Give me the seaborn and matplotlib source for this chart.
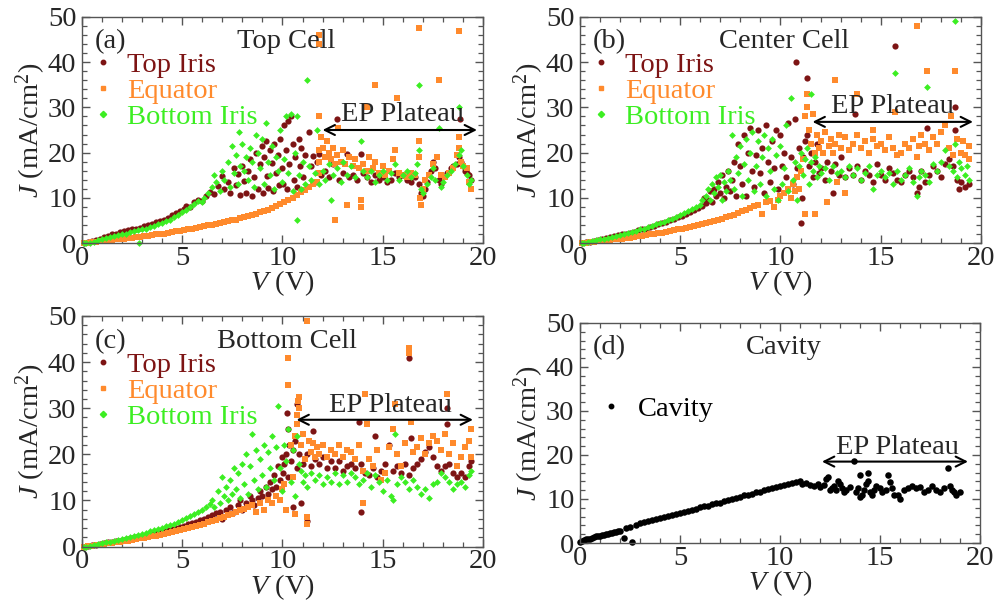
import matplotlib
matplotlib.use("Agg")
import matplotlib.pyplot as plt
from matplotlib.lines import Line2D
from matplotlib.ticker import MultipleLocator
import pandas as pd
import seaborn as sns

# ---------------------------------------------------------------------------
# Measured current density J (mA/cm^2) versus applied voltage V (V), (V, J)
# ---------------------------------------------------------------------------
TOP_IRIS_A = [
    (0.1, 0.0), (0.3, 0.2), (0.5, 0.4), (0.7, 0.7), (0.9, 1.0), (1.1, 1.3), (1.3, 1.6), (1.5, 1.9),
    (1.7, 2.1), (1.9, 2.4), (2.1, 2.6), (2.3, 2.9), (2.5, 3.1), (2.7, 3.0), (2.9, 3.4), (3.1, 3.7),
    (3.3, 4.0), (3.5, 4.2), (3.7, 4.6), (3.9, 4.9), (4.1, 5.2), (4.3, 5.6), (4.5, 6.1), (4.7, 6.6),
    (4.9, 7.0), (5.1, 7.5), (5.2, 8.3), (5.4, 8.0), (5.6, 9.0), (5.8, 9.6), (6.0, 9.2), (6.2, 10.4),
    (6.4, 11.2), (6.6, 10.8), (6.8, 12.6), (7.0, 14.8), (7.1, 12.0), (7.3, 13.5), (7.4, 11.0),
    (7.6, 16.5), (7.7, 12.8), (7.8, 15.2), (7.9, 10.6), (8.0, 17.0), (8.1, 13.8), (8.2, 11.0),
    (8.3, 16.0), (8.4, 18.5), (8.5, 10.5), (8.6, 14.5), (8.7, 20.0), (8.8, 12.0), (8.9, 17.5),
    (9.0, 21.5), (9.05, 11.0), (9.1, 19.0), (9.2, 22.5), (9.25, 14.8), (9.3, 12.2), (9.4, 20.5),
    (9.5, 17.8), (9.55, 11.5), (9.6, 21.8), (9.7, 15.5), (9.8, 19.5), (9.85, 12.8), (9.9, 23.0),
    (10.0, 16.5), (10.05, 13.0), (10.1, 26.0), (10.2, 20.5), (10.25, 12.0), (10.3, 27.0),
    (10.35, 17.5), (10.4, 28.2), (10.5, 22.0), (10.55, 14.0), (10.6, 19.0), (10.7, 12.5),
    (10.8, 23.0), (10.85, 17.0), (10.9, 21.0), (11.0, 14.5), (11.1, 19.5), (11.3, 24.5),
    (11.4, 17.0), (11.5, 19.2), (11.6, 13.5), (11.7, 18.0), (11.8, 19.8), (11.9, 15.0),
    (12.1, 16.0), (12.3, 14.5), (12.5, 17.5), (12.7, 27.5), (12.8, 14.0), (13.0, 15.5),
    (13.2, 19.8), (13.3, 14.5), (13.5, 15.0), (13.7, 14.0), (13.9, 19.8), (14.0, 15.5),
    (14.2, 14.5), (14.4, 13.5), (14.6, 15.0), (14.8, 14.0), (15.0, 14.5), (15.2, 13.5),
    (15.4, 14.0), (15.6, 15.5), (15.8, 14.5), (16.0, 15.0), (16.2, 14.0), (16.4, 13.5),
    (16.6, 14.5), (16.8, 13.0), (16.9, 11.0), (17.0, 10.5), (17.1, 12.0), (17.2, 13.5),
    (17.4, 16.0), (17.5, 18.0), (17.6, 16.5), (17.8, 14.0), (17.9, 13.0), (18.0, 14.5),
    (18.2, 15.5), (18.4, 16.5), (18.5, 17.0), (18.7, 17.5), (18.8, 19.0), (18.85, 27.5),
    (18.9, 18.0), (19.0, 17.0), (19.1, 16.0), (19.2, 15.5), (19.3, 15.0), (19.4, 14.0),
]
EQUATOR_A = [
    (0.1, 0.0), (0.3, 0.1), (0.5, 0.2), (0.7, 0.3), (0.9, 0.4), (1.1, 0.5), (1.3, 0.6), (1.5, 0.7),
    (1.7, 0.8), (1.9, 0.9), (2.1, 1.0), (2.3, 1.1), (2.5, 1.2), (2.7, 1.3), (2.9, 1.4), (3.1, 1.5),
    (3.3, 1.6), (3.5, 1.8), (3.7, 1.9), (3.9, 2.0), (4.1, 2.1), (4.3, 2.3), (4.5, 2.4), (4.7, 2.6),
    (4.9, 2.7), (5.1, 2.9), (5.3, 3.0), (5.5, 3.2), (5.7, 3.3), (5.9, 3.5), (6.1, 3.7), (6.3, 3.9),
    (6.5, 4.0), (6.7, 4.2), (6.9, 4.4), (7.1, 4.6), (7.3, 4.8), (7.5, 5.0), (7.7, 5.2), (7.9, 5.5),
    (8.1, 5.7), (8.3, 5.9), (8.5, 6.2), (8.7, 6.5), (8.9, 6.8), (9.1, 7.1), (9.3, 7.4), (9.5, 7.8),
    (9.7, 8.2), (9.9, 8.6), (10.1, 9.0), (10.3, 9.5), (10.5, 10.0), (10.7, 10.6), (10.9, 11.2),
    (11.1, 11.8), (11.3, 12.4), (11.5, 13.0), (11.7, 13.5), (11.8, 15.5), (11.8, 18.0),
    (11.8, 20.5), (11.9, 23.5), (11.8, 28.0), (11.8, 44.0), (11.8, 46.0), (12.0, 21.0),
    (12.1, 19.0), (12.2, 22.5), (12.3, 20.0), (12.4, 18.5), (12.5, 21.0), (12.6, 5.0),
    (12.6, 17.5), (12.7, 19.5), (12.75, 25.5), (12.9, 18.0), (13.0, 20.5), (13.1, 17.5),
    (13.2, 8.5), (13.3, 19.0), (13.5, 17.0), (13.6, 18.5), (13.8, 16.5), (13.9, 8.0), (13.9, 9.5),
    (14.0, 17.5), (14.2, 16.0), (14.2, 30.0), (14.3, 19.0), (14.5, 16.5), (14.6, 35.0),
    (14.6, 18.0), (14.8, 15.5), (15.0, 17.0), (15.1, 15.0), (15.3, 16.0), (15.5, 18.5),
    (15.6, 20.5), (15.7, 32.0), (15.8, 15.5), (16.0, 15.0), (16.2, 14.5), (16.4, 15.5),
    (16.6, 15.0), (16.8, 22.5), (16.8, 19.0), (16.8, 47.5), (16.85, 10.0), (16.9, 8.5),
    (17.0, 12.0), (17.1, 14.0), (17.3, 15.0), (17.5, 17.5), (17.7, 19.0), (17.8, 36.0),
    (17.9, 15.0), (18.1, 14.5), (18.3, 15.5), (18.5, 16.5), (18.7, 19.5), (18.8, 23.5),
    (18.8, 21.0), (18.8, 47.0), (18.9, 18.0), (19.0, 17.0), (19.2, 16.5), (19.3, 13.5),
    (19.4, 12.0),
]
BOTTOM_IRIS_A = [
    (0.1, 0.0), (0.2, 0.0), (0.4, 0.1), (0.6, 0.3), (0.8, 0.6), (1.0, 0.8), (1.2, 1.1), (1.4, 1.3),
    (1.6, 1.5), (1.8, 1.7), (2.0, 1.9), (2.2, 2.1), (2.4, 2.4), (2.6, 2.6), (2.8, 2.8), (2.85, 0.0),
    (3.0, 3.0), (3.2, 3.2), (3.4, 3.5), (3.6, 3.8), (3.8, 4.1), (4.0, 4.5), (4.2, 4.8), (4.4, 5.2),
    (4.6, 5.7), (4.8, 6.2), (5.0, 6.8), (5.2, 7.3), (5.4, 7.9), (5.6, 8.6), (5.8, 9.3), (6.0, 9.0),
    (6.1, 10.0), (6.3, 11.0), (6.5, 12.5), (6.6, 15.0), (6.7, 13.5), (6.9, 11.5), (7.0, 16.0),
    (7.1, 14.0), (7.3, 18.0), (7.4, 12.5), (7.5, 21.5), (7.6, 15.5), (7.7, 19.5), (7.8, 13.0),
    (7.85, 24.5), (7.9, 17.0), (8.0, 22.0), (8.1, 16.0), (8.2, 19.0), (8.3, 14.0), (8.4, 21.0),
    (8.5, 18.0), (8.6, 12.5), (8.7, 24.0), (8.8, 20.0), (8.9, 16.5), (9.0, 23.0), (9.1, 13.0),
    (9.2, 26.5), (9.3, 18.0), (9.4, 15.0), (9.5, 21.5), (9.6, 12.0), (9.7, 19.0), (9.8, 16.0),
    (9.9, 25.0), (10.0, 13.5), (10.1, 18.5), (10.2, 28.0), (10.3, 15.5), (10.4, 28.5),
    (10.5, 11.5), (10.6, 20.0), (10.7, 5.0), (10.7, 28.0), (10.8, 15.0), (10.9, 12.0),
    (11.0, 18.0), (11.1, 13.0), (11.2, 36.0), (11.3, 17.0), (11.4, 14.0), (11.6, 15.5),
    (11.7, 25.0), (11.8, 13.0), (12.0, 16.0), (12.1, 14.0), (12.3, 17.5), (12.4, 9.5),
    (12.5, 15.0), (12.7, 16.5), (12.9, 13.5), (13.0, 18.0), (13.2, 15.0), (13.4, 17.0),
    (13.6, 14.5), (13.9, 22.5), (14.0, 16.0), (14.2, 14.5), (14.4, 16.0), (14.6, 13.5),
    (14.8, 15.0), (15.0, 16.0), (15.2, 14.0), (15.4, 15.5), (15.6, 17.5), (15.8, 14.0),
    (16.0, 15.0), (16.2, 16.0), (16.4, 14.5), (16.6, 15.5), (16.7, 17.5), (16.8, 35.0),
    (16.8, 20.5), (16.9, 12.0), (17.0, 11.0), (17.2, 13.0), (17.4, 14.5), (17.5, 16.5),
    (17.6, 14.0), (17.8, 25.5), (17.9, 12.5), (18.0, 13.5), (18.2, 15.0), (18.4, 16.0),
    (18.6, 17.5), (18.8, 30.0), (18.8, 19.5), (18.9, 20.5), (19.0, 17.0), (19.2, 15.0),
    (19.3, 13.0), (19.4, 14.0),
]

TOP_IRIS_B = [
    (0.1, 0.0), (0.3, 0.2), (0.5, 0.3), (0.7, 0.5), (0.9, 0.7), (1.1, 0.9), (1.3, 1.1), (1.5, 1.3),
    (1.7, 1.5), (1.9, 1.7), (2.1, 1.9), (2.3, 2.1), (2.5, 2.3), (2.7, 2.5), (2.9, 2.8), (3.1, 3.0),
    (3.3, 3.2), (3.5, 3.5), (3.7, 3.8), (3.9, 4.1), (4.1, 4.4), (4.3, 4.7), (4.5, 5.0), (4.7, 5.3),
    (4.9, 5.7), (5.1, 6.0), (5.3, 6.4), (5.5, 6.8), (5.7, 7.3), (5.9, 7.8), (6.1, 8.2), (6.2, 10.0),
    (6.3, 8.8), (6.4, 9.5), (6.5, 11.5), (6.6, 9.0), (6.7, 12.0), (6.8, 10.5), (6.9, 13.5),
    (7.0, 11.0), (7.1, 15.0), (7.2, 10.0), (7.3, 12.5), (7.4, 16.0), (7.5, 11.5), (7.6, 14.0),
    (7.7, 18.0), (7.8, 10.5), (7.9, 22.0), (8.0, 17.0), (8.1, 13.0), (8.2, 24.0), (8.3, 10.5),
    (8.4, 20.0), (8.5, 25.5), (8.6, 16.0), (8.7, 12.5), (8.8, 19.5), (8.9, 25.0), (9.0, 15.5),
    (9.1, 21.0), (9.2, 11.0), (9.3, 26.0), (9.4, 18.0), (9.5, 13.5), (9.6, 22.5), (9.7, 16.5),
    (9.8, 25.0), (9.9, 12.0), (10.0, 24.0), (10.1, 17.0), (10.2, 20.0), (10.3, 14.5),
    (10.4, 26.5), (10.5, 19.0), (10.6, 13.0), (10.7, 27.5), (10.75, 40.0), (10.8, 16.5),
    (10.9, 21.0), (11.0, 4.5), (11.05, 10.0), (11.1, 19.0), (11.2, 22.5), (11.3, 36.5),
    (11.3, 24.0), (11.4, 17.0), (11.5, 20.0), (11.6, 14.5), (11.7, 18.0), (11.8, 22.0),
    (11.9, 15.5), (12.0, 16.5), (12.2, 14.0), (12.3, 18.0), (12.5, 16.0), (12.6, 11.0),
    (12.7, 17.5), (12.9, 15.0), (13.0, 19.0), (13.2, 14.5), (13.4, 16.5), (13.6, 15.0),
    (13.7, 28.5), (13.8, 17.0), (14.0, 14.0), (14.2, 16.0), (14.4, 15.0), (14.6, 13.5),
    (14.8, 17.5), (15.0, 15.0), (15.2, 14.0), (15.4, 16.5), (15.6, 15.5), (15.7, 43.5),
    (15.8, 14.0), (16.0, 13.5), (16.2, 15.0), (16.4, 16.0), (16.6, 14.5), (16.8, 11.0),
    (16.9, 12.5), (17.0, 16.0), (17.2, 13.5), (17.3, 25.5), (17.4, 15.0), (17.6, 17.0),
    (17.8, 16.0), (18.0, 14.5), (18.2, 17.5), (18.4, 18.5), (18.6, 17.0), (18.7, 30.0),
    (18.7, 25.0), (18.8, 14.0), (18.9, 12.0), (19.0, 13.5), (19.2, 12.5), (19.4, 13.0),
]
EQUATOR_B = [
    (0.1, 0.0), (0.3, 0.1), (0.5, 0.2), (0.7, 0.3), (0.9, 0.4), (1.1, 0.5), (1.3, 0.6), (1.5, 0.7),
    (1.7, 0.8), (1.9, 0.9), (2.1, 1.0), (2.3, 1.1), (2.5, 1.2), (2.7, 1.4), (2.9, 1.5), (3.1, 1.6),
    (3.3, 1.8), (3.5, 1.9), (3.7, 2.0), (3.9, 2.2), (4.1, 2.3), (4.3, 2.5), (4.5, 2.6), (4.7, 2.8),
    (4.9, 3.0), (5.1, 3.2), (5.3, 3.3), (5.5, 3.5), (5.7, 3.7), (5.9, 4.0), (6.1, 4.2), (6.3, 4.4),
    (6.5, 4.6), (6.7, 4.9), (6.9, 5.1), (7.1, 5.4), (7.3, 5.7), (7.5, 6.0), (7.7, 6.3), (7.9, 6.6),
    (8.1, 7.0), (8.3, 7.3), (8.5, 7.7), (8.7, 8.1), (8.9, 8.5), (9.1, 6.5), (9.3, 9.0), (9.5, 9.4),
    (9.7, 8.0), (9.9, 9.5), (10.0, 10.5), (10.2, 11.0), (10.4, 12.0), (10.5, 10.0), (10.6, 13.0),
    (10.7, 11.5), (10.8, 14.5), (10.9, 12.0), (11.0, 16.0), (11.1, 18.5), (11.2, 6.5),
    (11.2, 28.0), (11.3, 33.0), (11.3, 30.0), (11.4, 25.0), (11.5, 22.0), (11.6, 28.5),
    (11.7, 6.5), (11.7, 20.0), (11.8, 24.0), (11.9, 21.0), (12.0, 22.5), (12.1, 20.0),
    (12.2, 24.5), (12.3, 9.0), (12.4, 21.5), (12.5, 23.0), (12.6, 20.0), (12.7, 36.0),
    (12.7, 22.0), (12.8, 13.5), (12.9, 24.0), (13.0, 21.0), (13.2, 11.0), (13.2, 23.5),
    (13.4, 20.5), (13.6, 22.0), (13.8, 33.0), (13.8, 24.0), (14.0, 21.0), (14.2, 22.5),
    (14.4, 20.0), (14.6, 25.0), (14.6, 23.0), (14.8, 21.5), (15.0, 22.0), (15.2, 20.5),
    (15.4, 23.5), (15.6, 21.0), (15.7, 29.0), (15.8, 19.5), (16.0, 20.0), (16.2, 22.0),
    (16.4, 21.0), (16.6, 23.0), (16.8, 48.0), (16.8, 19.0), (16.9, 21.5), (17.0, 24.0),
    (17.2, 22.0), (17.3, 38.0), (17.4, 20.5), (17.6, 23.5), (17.8, 22.0), (18.0, 24.5),
    (18.2, 26.0), (18.4, 21.0), (18.5, 28.0), (18.6, 19.5), (18.7, 38.0), (18.8, 23.0),
    (19.0, 20.0), (19.1, 22.5), (19.2, 19.5), (19.4, 21.5), (19.4, 18.5),
]
BOTTOM_IRIS_B = [
    (0.1, 0.0), (0.2, 0.1), (0.4, 0.2), (0.6, 0.4), (0.8, 0.6), (1.0, 0.8), (1.2, 1.0), (1.4, 1.2),
    (1.6, 1.4), (1.8, 1.6), (2.0, 1.8), (2.2, 2.0), (2.4, 2.2), (2.6, 2.5), (2.8, 2.7), (3.0, 3.0),
    (3.2, 3.2), (3.4, 3.5), (3.6, 3.8), (3.8, 4.1), (4.0, 4.4), (4.2, 4.7), (4.4, 5.0), (4.6, 5.4),
    (4.8, 5.8), (5.0, 6.2), (5.2, 6.6), (5.4, 7.0), (5.6, 7.5), (5.8, 8.0), (6.0, 8.5), (6.1, 9.5),
    (6.3, 10.5), (6.4, 12.0), (6.5, 9.5), (6.6, 13.0), (6.7, 11.0), (6.8, 14.5), (6.9, 12.5),
    (7.0, 15.0), (7.1, 9.5), (7.2, 13.5), (7.3, 11.5), (7.4, 16.0), (7.5, 14.0), (7.6, 24.0),
    (7.7, 12.0), (7.8, 19.0), (7.9, 15.5), (8.0, 21.5), (8.1, 10.5), (8.2, 17.5), (8.3, 23.0),
    (8.4, 14.0), (8.5, 20.0), (8.6, 24.5), (8.7, 11.5), (8.8, 17.0), (8.9, 22.5), (9.0, 13.0),
    (9.1, 19.0), (9.2, 24.0), (9.3, 10.5), (9.4, 21.0), (9.5, 16.0), (9.6, 23.0), (9.7, 12.0),
    (9.8, 19.5), (9.9, 9.5), (10.0, 21.5), (10.1, 13.0), (10.2, 16.5), (10.3, 26.0),
    (10.4, 11.5), (10.5, 32.0), (10.6, 14.0), (10.7, 18.0), (10.8, 9.5), (10.9, 17.0),
    (11.0, 20.0), (11.1, 15.0), (11.2, 18.5), (11.3, 21.0), (11.4, 13.0), (11.5, 33.0),
    (11.5, 18.0), (11.6, 16.0), (11.7, 19.0), (11.8, 14.5), (11.9, 17.0), (12.0, 15.5),
    (12.2, 16.5), (12.4, 14.0), (12.6, 17.0), (12.8, 15.5), (13.0, 16.0), (13.2, 14.5),
    (13.4, 17.0), (13.6, 15.0), (13.8, 16.5), (14.0, 14.0), (14.2, 15.5), (14.4, 17.0),
    (14.6, 12.0), (14.8, 15.0), (15.0, 16.0), (15.2, 14.5), (15.4, 15.5), (15.6, 13.0),
    (15.7, 37.5), (15.8, 16.0), (16.0, 14.0), (16.2, 15.0), (16.4, 16.5), (16.6, 13.5),
    (16.8, 10.5), (16.9, 14.5), (17.0, 16.0), (17.2, 15.0), (17.3, 34.5), (17.4, 13.5),
    (17.6, 17.5), (17.8, 16.0), (18.0, 18.0), (18.2, 20.5), (18.4, 17.0), (18.6, 16.0),
    (18.7, 49.0), (18.7, 22.0), (18.8, 14.5), (18.9, 18.0), (19.0, 16.5), (19.2, 15.0),
    (19.3, 17.0), (19.4, 14.0),
]

TOP_IRIS_C = [
    (0.1, 0.0), (0.3, 0.1), (0.5, 0.3), (0.7, 0.4), (0.9, 0.6), (1.1, 0.7), (1.3, 0.9), (1.5, 1.0),
    (1.7, 1.2), (1.9, 1.3), (2.1, 1.5), (2.3, 1.6), (2.5, 1.8), (2.7, 2.0), (2.9, 2.1), (3.1, 2.3),
    (3.3, 2.5), (3.5, 2.7), (3.7, 2.9), (3.9, 3.1), (4.1, 3.3), (4.3, 3.5), (4.5, 3.8), (4.7, 4.0),
    (4.9, 4.3), (5.1, 4.5), (5.3, 4.8), (5.5, 5.1), (5.7, 5.4), (5.9, 5.7), (6.1, 6.0), (6.3, 6.4),
    (6.5, 6.8), (6.7, 7.2), (6.9, 7.6), (7.0, 6.0), (7.2, 8.0), (7.4, 8.5), (7.6, 7.5), (7.8, 9.0),
    (7.9, 10.0), (8.0, 8.0), (8.2, 9.5), (8.4, 11.0), (8.5, 10.0), (8.6, 9.0), (8.8, 10.5),
    (8.9, 12.0), (9.0, 11.0), (9.2, 13.0), (9.3, 11.5), (9.4, 14.0), (9.5, 12.5), (9.6, 15.5),
    (9.7, 13.0), (9.8, 17.5), (9.9, 14.5), (10.0, 19.5), (10.05, 16.0), (10.1, 18.0),
    (10.2, 20.0), (10.25, 29.0), (10.3, 25.5), (10.3, 15.0), (10.35, 22.0), (10.4, 18.5),
    (10.5, 8.5), (10.5, 21.0), (10.6, 23.0), (10.7, 31.0), (10.7, 17.0), (10.8, 20.0),
    (10.9, 9.5), (11.0, 18.0), (11.2, 5.5), (11.2, 20.0), (11.4, 17.5), (11.5, 25.0),
    (11.6, 19.0), (11.8, 18.0), (12.0, 19.5), (12.2, 17.0), (12.4, 18.5), (12.6, 17.0),
    (12.8, 18.5), (13.0, 16.5), (13.2, 17.5), (13.4, 18.0), (13.6, 17.0), (13.8, 27.0),
    (13.9, 7.5), (13.9, 18.0), (14.1, 16.0), (14.3, 15.5), (14.5, 17.0), (14.6, 24.0),
    (14.7, 15.0), (14.9, 16.5), (15.1, 18.0), (15.3, 22.0), (15.5, 16.5), (15.7, 17.5),
    (15.9, 16.0), (16.1, 18.0), (16.3, 41.0), (16.3, 15.5), (16.4, 23.5), (16.5, 17.0),
    (16.7, 18.0), (16.9, 19.0), (17.1, 20.5), (17.3, 21.5), (17.5, 19.5), (17.7, 17.5),
    (17.9, 16.5), (18.1, 17.5), (18.2, 30.0), (18.2, 26.5), (18.3, 18.0), (18.5, 16.0),
    (18.7, 15.0), (18.9, 16.0), (19.1, 15.0), (19.3, 17.5), (19.4, 18.5),
]
EQUATOR_C = [
    (0.1, 0.0), (0.3, 0.1), (0.5, 0.2), (0.7, 0.3), (0.9, 0.4), (1.1, 0.6), (1.3, 0.7), (1.5, 0.8),
    (1.7, 0.9), (1.9, 1.1), (2.1, 1.2), (2.3, 1.3), (2.5, 1.5), (2.7, 1.6), (2.9, 1.8), (3.1, 1.9),
    (3.3, 2.1), (3.5, 2.2), (3.7, 2.4), (3.9, 2.6), (4.1, 2.8), (4.3, 3.0), (4.5, 3.2), (4.7, 3.4),
    (4.9, 3.6), (5.1, 3.8), (5.3, 4.0), (5.5, 4.2), (5.7, 4.5), (5.9, 4.7), (6.1, 5.0), (6.3, 5.3),
    (6.5, 5.5), (6.7, 5.8), (6.9, 6.1), (7.1, 6.4), (7.3, 6.8), (7.5, 7.1), (7.7, 7.5), (7.9, 7.9),
    (8.1, 8.2), (8.3, 8.6), (8.5, 9.0), (8.7, 7.5), (8.9, 9.5), (9.1, 8.0), (9.3, 10.0), (9.5, 9.5),
    (9.7, 11.0), (9.9, 10.0), (10.0, 12.5), (10.1, 13.5), (10.2, 8.0), (10.3, 41.0), (10.3, 35.0),
    (10.4, 22.0), (10.5, 15.0), (10.6, 24.0), (10.6, 7.0), (10.7, 26.5), (10.7, 28.5),
    (10.75, 31.5), (10.8, 30.0), (10.8, 32.5), (10.9, 22.0), (11.0, 24.5), (11.1, 19.0),
    (11.2, 49.0), (11.2, 6.5), (11.2, 5.0), (11.3, 23.0), (11.4, 20.5), (11.5, 22.5),
    (11.6, 19.5), (11.7, 21.5), (11.8, 20.0), (12.0, 22.0), (12.2, 19.5), (12.4, 21.0),
    (12.6, 20.0), (12.8, 22.0), (13.0, 19.5), (13.2, 21.0), (13.4, 20.5), (13.6, 19.0),
    (13.8, 22.0), (14.0, 9.5), (14.0, 16.5), (14.1, 33.0), (14.2, 26.5), (14.3, 19.0),
    (14.5, 17.5), (14.7, 21.0), (14.9, 14.5), (15.1, 16.0), (15.3, 21.5), (15.5, 25.5),
    (15.6, 31.0), (15.7, 20.0), (15.9, 17.5), (16.1, 22.5), (16.3, 43.0), (16.3, 42.0),
    (16.4, 27.0), (16.5, 20.5), (16.7, 21.5), (16.9, 23.5), (17.1, 20.0), (17.3, 22.5),
    (17.5, 24.0), (17.7, 23.0), (17.9, 21.0), (18.1, 24.5), (18.2, 33.0), (18.3, 20.0),
    (18.5, 22.5), (18.7, 17.5), (18.9, 19.5), (19.1, 21.5), (19.3, 23.0), (19.4, 25.5),
    (19.4, 19.5),
]
BOTTOM_IRIS_C = [
    (0.1, 0.0), (0.2, 0.0), (0.4, 0.2), (0.6, 0.3), (0.8, 0.5), (1.0, 0.7), (1.2, 0.9), (1.4, 1.1),
    (1.6, 1.3), (1.8, 1.5), (2.0, 1.7), (2.2, 1.9), (2.4, 2.1), (2.6, 2.3), (2.8, 2.6), (3.0, 2.8),
    (3.2, 3.0), (3.4, 3.3), (3.6, 3.5), (3.8, 3.8), (4.0, 4.1), (4.2, 4.4), (4.4, 4.7), (4.6, 5.0),
    (4.8, 5.4), (5.0, 5.8), (5.2, 6.2), (5.4, 6.6), (5.6, 7.0), (5.8, 7.5), (6.0, 8.0), (6.2, 8.6),
    (6.4, 9.2), (6.5, 10.0), (6.6, 8.5), (6.8, 12.0), (6.9, 9.5), (7.0, 15.0), (7.1, 11.0),
    (7.2, 13.0), (7.3, 10.0), (7.4, 14.5), (7.5, 11.5), (7.6, 17.0), (7.7, 12.5), (7.8, 16.0),
    (7.9, 10.5), (8.0, 18.0), (8.1, 13.5), (8.2, 20.0), (8.3, 11.5), (8.4, 17.5), (8.5, 24.5),
    (8.6, 14.5), (8.7, 21.0), (8.8, 12.5), (8.9, 19.0), (9.0, 15.5), (9.1, 22.0), (9.2, 13.0),
    (9.3, 20.5), (9.4, 17.0), (9.5, 24.0), (9.6, 14.5), (9.7, 21.5), (9.8, 30.5), (9.9, 17.0),
    (10.0, 12.0), (10.1, 22.0), (10.2, 18.5), (10.3, 25.5), (10.4, 14.0), (10.5, 21.0),
    (10.6, 11.0), (10.7, 24.0), (10.8, 18.0), (10.9, 16.5), (11.0, 14.0), (11.1, 15.5),
    (11.2, 13.0), (11.4, 16.0), (11.6, 14.5), (11.8, 15.5), (12.0, 13.5), (12.2, 15.0),
    (12.4, 14.0), (12.6, 16.0), (12.8, 13.5), (13.0, 15.5), (13.2, 14.0), (13.4, 16.0),
    (13.6, 15.0), (13.8, 13.5), (14.0, 14.5), (14.2, 16.0), (14.4, 13.0), (14.6, 15.5),
    (14.8, 14.0), (15.0, 12.0), (15.2, 14.5), (15.4, 11.0), (15.5, 10.0), (15.6, 24.5),
    (15.7, 13.5), (15.9, 15.0), (16.1, 14.0), (16.3, 12.5), (16.5, 14.5), (16.7, 13.0),
    (16.9, 11.5), (17.1, 12.5), (17.3, 10.5), (17.5, 13.5), (17.7, 14.0), (17.9, 16.0),
    (18.1, 15.0), (18.3, 14.0), (18.5, 12.5), (18.7, 13.5), (18.9, 14.0), (19.1, 13.0),
    (19.3, 15.5), (19.4, 16.5),
]

CAVITY = [
    (0.0, 0.2), (0.1, 0.5), (0.2, 0.7), (0.3, 0.8), (0.4, 1.0), (0.5, 1.0), (0.6, 1.2), (0.7, 1.3),
    (0.8, 1.5), (0.9, 1.6), (1.0, 1.7), (1.1, 1.8), (1.2, 1.9), (1.3, 2.0), (1.4, 2.1), (1.5, 2.2),
    (1.6, 2.3), (1.7, 2.4), (1.8, 2.6), (1.9, 2.7), (2.0, 2.8), (2.2, 1.2), (2.3, 3.3), (2.5, 3.6),
    (2.6, 0.2), (2.8, 4.2), (3.0, 4.5), (3.2, 4.7), (3.4, 4.9), (3.6, 5.2), (3.8, 5.4), (4.0, 5.6),
    (4.2, 5.9), (4.4, 6.1), (4.6, 6.4), (4.8, 6.6), (5.0, 6.9), (5.2, 7.1), (5.4, 7.3), (5.6, 7.6),
    (5.8, 7.8), (6.0, 8.1), (6.2, 8.3), (6.4, 8.5), (6.6, 8.8), (6.8, 9.0), (7.0, 9.2), (7.2, 9.5),
    (7.4, 9.7), (7.6, 10.0), (7.8, 10.2), (8.0, 10.5), (8.2, 10.8), (8.4, 11.0), (8.6, 11.2),
    (8.8, 11.5), (9.0, 11.7), (9.2, 12.0), (9.4, 12.2), (9.6, 12.4), (9.8, 12.7), (10.0, 12.9),
    (10.2, 13.2), (10.4, 13.4), (10.6, 13.6), (10.8, 13.8), (11.0, 14.0), (11.1, 13.5),
    (11.3, 13.6), (11.5, 13.2), (11.7, 13.0), (11.9, 13.5), (12.0, 12.8), (12.2, 13.2),
    (12.3, 14.5), (12.4, 15.0), (12.5, 12.0), (12.6, 12.5), (12.7, 13.0), (12.8, 12.0),
    (12.9, 14.0), (13.0, 13.5), (13.1, 12.5), (13.2, 11.5), (13.3, 12.0), (13.5, 12.8),
    (13.7, 18.7), (13.8, 11.5), (13.9, 12.5), (14.0, 15.5), (14.0, 10.5), (14.1, 11.0),
    (14.2, 12.0), (14.3, 13.5), (14.4, 16.0), (14.4, 14.0), (14.5, 11.5), (14.6, 10.8),
    (14.7, 12.0), (14.8, 13.0), (15.0, 12.5), (15.1, 11.5), (15.3, 12.0), (15.4, 15.5),
    (15.5, 13.8), (15.6, 12.5), (15.7, 11.0), (15.9, 10.8), (16.0, 10.0), (16.2, 12.0),
    (16.4, 12.5), (16.6, 13.0), (16.8, 12.5), (17.0, 12.8), (17.2, 11.5), (17.4, 12.0),
    (17.6, 13.0), (17.8, 12.0), (18.0, 11.5), (18.2, 12.5), (18.4, 17.0), (18.5, 13.0),
    (18.6, 12.0), (18.7, 11.5), (18.8, 11.0), (19.0, 11.5),
]

SERIES_NAMES = ["Top Iris", "Equator", "Bottom Iris"]
PANEL_LABELS = ["(a)", "(b)", "(c)", "(d)"]
PANEL_TITLES = ["Top Cell", "Center Cell", "Bottom Cell", "Cavity"]

# ---------------------------------------------------------------------------
# Styling
# ---------------------------------------------------------------------------
sns.set_theme(style="ticks")
plt.rcParams["font.family"] = "serif"
plt.rcParams["font.serif"] = ["Liberation Serif", "Times New Roman", "DejaVu Serif"]
plt.rcParams["mathtext.fontset"] = "custom"
plt.rcParams["mathtext.rm"] = "Liberation Serif"
plt.rcParams["mathtext.it"] = "Liberation Serif:italic"
FS = 20.5
SERIF = ["Liberation Serif", "DejaVu Serif"]

COLORS = {"Top Iris": "#7d1414", "Equator": "#ff8a2c", "Bottom Iris": "#3cee22", "Cavity": "#000000"}
MARKERS = {"Top Iris": "o", "Equator": "s", "Bottom Iris": "D", "Cavity": "o"}
SIZES = {"Top Iris": 20, "Equator": 19, "Bottom Iris": 12, "Cavity": 22}

fig = plt.figure(figsize=(9.95, 6.02), dpi=100)
fig.patch.set_facecolor("white")

# axes boxes in figure fractions: left, bottom, width, height
BOXES = [
    (0.0824, 0.5963, 0.4030, 0.3755),
    (0.5829, 0.5963, 0.4030, 0.3755),
    (0.0824, 0.0920, 0.4030, 0.3831),
    (0.5829, 0.0980, 0.4020, 0.3655),
]

cell_series = [
    [TOP_IRIS_A, EQUATOR_A, BOTTOM_IRIS_A],
    [TOP_IRIS_B, EQUATOR_B, BOTTOM_IRIS_B],
    [TOP_IRIS_C, EQUATOR_C, BOTTOM_IRIS_C],
]
# plateau arrow (start V, end V, J) and its caption position (V, J)
PLATEAU = [
    (12.0, 19.7, 25.0, 16.0, 28.4),
    (11.6, 19.6, 26.8, 15.6, 30.2),
    (10.7, 19.5, 27.5, 15.4, 30.5),
    (12.1, 19.4, 18.5, 15.85, 21.7),
]


def to_frame(points, name):
    return pd.DataFrame(points, columns=["V", "J"]).assign(series=name)


def style_axes(ax):
    ax.set_xlim(0, 20)
    ax.set_ylim(0, 50)
    ax.xaxis.set_major_locator(MultipleLocator(5))
    ax.xaxis.set_minor_locator(MultipleLocator(1))
    ax.yaxis.set_major_locator(MultipleLocator(10))
    ax.yaxis.set_minor_locator(MultipleLocator(2))
    ax.tick_params(which="both", direction="in", top=True, right=True,
                   color="#555555", labelsize=FS)
    ax.tick_params(axis="x", which="major", pad=2)
    ax.tick_params(axis="y", which="major", pad=4)
    ax.tick_params(which="major", length=6, width=1.0)
    ax.tick_params(which="minor", length=3.5, width=0.9)
    for lab in ax.get_xticklabels() + ax.get_yticklabels():
        lab.set_fontfamily(SERIF)
    for sp in ax.spines.values():
        sp.set_color("#555555")
        sp.set_linewidth(1.0)
    ax.set_xlabel(r"$V$ (V)", fontsize=FS, labelpad=-1.5, family=SERIF)
    ax.set_ylabel(r"$J$ (mA/cm$^2$)", fontsize=FS, labelpad=0, family=SERIF)


axes = [fig.add_axes(b) for b in BOXES]

for i, ax in enumerate(axes):
    if i < 3:
        names = SERIES_NAMES
        frames = [to_frame(p, n) for p, n in zip(cell_series[i], names)]
    else:
        names = ["Cavity"]
        frames = [to_frame(CAVITY, "Cavity")]
    for df, name in zip(frames, names):
        sns.scatterplot(data=df, x="V", y="J", ax=ax, color=COLORS[name],
                        marker=MARKERS[name], s=SIZES[name], linewidth=0,
                        legend=False, clip_on=False, zorder=2)
    style_axes(ax)

    ax.text(0.032, 0.89, PANEL_LABELS[i], transform=ax.transAxes,
            fontsize=FS, ha="left", va="center", family=SERIF)
    ax.text(0.51, 0.89, PANEL_TITLES[i], transform=ax.transAxes,
            fontsize=FS, ha="center", va="center", family=SERIF)

    v0, v1, jy, tv, tj = PLATEAU[i]
    ax.annotate("", xy=(v1, jy), xytext=(v0, jy),
                arrowprops=dict(arrowstyle="<->", lw=1.5, color="black",
                                mutation_scale=18, shrinkA=0, shrinkB=0),
                zorder=4)
    ax.text(tv, tj, "EP Plateau", fontsize=FS, ha="center", va="center",
            zorder=4, family=SERIF)

    handles = [Line2D([], [], linestyle="none", marker=MARKERS[n], color=COLORS[n],
                      markersize=3.2) for n in names]
    legend_font = {"family": SERIF, "size": FS}
    if i < 3:
        ax.legend(handles, names, loc="upper left", bbox_to_anchor=(0.02, 0.845),
                  frameon=False, prop=legend_font, handlelength=0.9, handletextpad=0.4,
                  labelspacing=0.0, borderpad=0, borderaxespad=0,
                  labelcolor=[COLORS[n] for n in names])
    else:
        ax.legend(handles, names, loc="upper left", bbox_to_anchor=(0.045, 0.67),
                  frameon=False, prop=legend_font, handlelength=0.9, handletextpad=0.5,
                  borderpad=0, borderaxespad=0, labelcolor=["black"])

fig.savefig("out.png", dpi=100, facecolor="white")
